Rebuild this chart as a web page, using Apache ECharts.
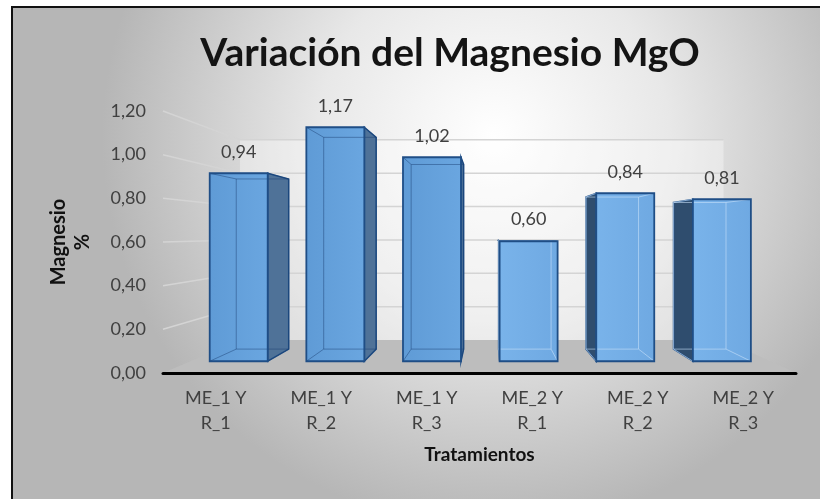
<!DOCTYPE html>
<html>
<head>
<meta charset="utf-8">
<script src="https://cdn.jsdelivr.net/npm/echarts@6/dist/echarts.min.js"></script>
<style>
html,body{margin:0;padding:0;background:#fff;}
#chart{width:820px;height:499px;}
</style>
</head>
<body>
<div id="chart"></div>
<script>
// ---- data ----
const categories = ['ME_1 Y\nR_1', 'ME_1 Y\nR_2', 'ME_1 Y\nR_3', 'ME_2 Y\nR_1', 'ME_2 Y\nR_2', 'ME_2 Y\nR_3'];
const values = [0.94, 1.17, 1.02, 0.60, 0.84, 0.81];
const yTicks = [0, 0.2, 0.4, 0.6, 0.8, 1.0, 1.2];
const titleText = 'Variación del Magnesio MgO';
const xName = 'Tratamientos';
const yName = 'Magnesio\n%';

// ---- perspective camera (style parameters) ----
const VP_CAT = 2.59;   // vanishing point along categories (index units)
const VP_VAL = 0.64;   // vanishing point height (value units)
const S_BAR_FRONT = 0.916, S_BAR_BACK = 0.829, S_WALL = 0.764;
const FONT = 'Lato';

function fmt(v){ return v.toFixed(2).replace('.', ','); }

function vpPoint(params, api){
  const cs = params.coordSys;
  const x = cs.x + cs.width * (VP_CAT + 0.5) / categories.length;
  const y = api.coord([0, VP_VAL])[1];
  return [x, y];
}
function proj(p, s, vp){ return [vp[0] + (p[0]-vp[0])*s, vp[1] + (p[1]-vp[1])*s]; }

function renderFloor(params, api){
  const cs = params.coordSys, vp = vpPoint(params, api);
  const y0 = api.coord([0, 0])[1];
  const fl = [cs.x, y0], fr = [cs.x + cs.width, y0];
  const bl = proj(fl, S_WALL, vp), br = proj(fr, S_WALL, vp);
  const yTop = api.coord([0, yTicks[yTicks.length-1]])[1];
  const wl = proj([cs.x, yTop], S_WALL, vp), wr = proj([cs.x + cs.width, yTop], S_WALL, vp);
  return {type:'group', children:[
    {type:'polygon', shape:{points:[wl, wr, br, bl]}, style:{fill:'rgba(255,255,255,0.35)'}},
    {type:'polygon', shape:{points:[fl, fr, br, bl]}, style:{fill:'#bdbdbd'}}
  ]};
}

function renderGrid(params, api){
  const v = api.value(0);
  if (v === 0) return null;
  const cs = params.coordSys, vp = vpPoint(params, api);
  const y = api.coord([0, v])[1];
  const fl = [cs.x, y];
  const bl = proj(fl, S_WALL, vp), br = proj([cs.x + cs.width, y], S_WALL, vp);
  return {type:'polyline', shape:{points:[fl, bl, br]}, style:{stroke:'#d4d4d4', lineWidth:1.5, fill:null}};
}

function renderBar(params, api){
  const i = api.value(0), v = api.value(1);
  const vp = vpPoint(params, api);
  const top = api.coord([i, v]), bot = api.coord([i, 0]);
  const bw = api.size([1, 0])[0] * 0.6;
  const xl = top[0] - bw/2, xr = top[0] + bw/2;
  const P = {TL:[xl, top[1]], TR:[xr, top[1]], BR:[xr, bot[1]], BL:[xl, bot[1]]};
  const F = {}, B = {};
  for (const k in P){ F[k] = proj(P[k], S_BAR_FRONT, vp); B[k] = proj(P[k], S_BAR_BACK, vp); }
  const rightOfVp = top[0] > vp[0];
  const edge = '#1f4e86';
  const inner = rightOfVp ? 'rgba(200,225,250,0.6)' : 'rgba(25,60,110,0.45)';
  const ch = [];
  if (B.TR[0] > F.TR[0] + 0.5){
    ch.push({type:'polygon', shape:{points:[F.TR, B.TR, B.BR, F.BR]}, style:{fill:'#4f7298', stroke:edge, lineWidth:1.5}});
  }
  if (B.TL[0] < F.TL[0] - 0.5){
    ch.push({type:'polygon', shape:{points:[B.TL, F.TL, F.BL, B.BL]}, style:{fill:'#2f4d6e', stroke:edge, lineWidth:1.5}});
  }
  if (B.TL[1] < F.TL[1] - 0.3){
    ch.push({type:'polygon', shape:{points:[B.TL, B.TR, F.TR, F.TL]}, style:{fill:'#8cbdec', stroke:edge, lineWidth:1.2}});
  }
  const faceStops = rightOfVp
    ? [{offset:0, color:'#79b3ea'},{offset:1, color:'#6fa9e2'}]
    : [{offset:0, color:'#5f9bd6'},{offset:1, color:'#6aa6e0'}];
  ch.push({type:'polygon', shape:{points:[F.TL, F.TR, F.BR, F.BL]}, style:{
    fill:{type:'linear', x:0, y:0, x2:1, y2:0, colorStops:faceStops}
  }});
  ch.push({type:'polyline', shape:{points:[B.TL, B.TR, B.BR, B.BL, B.TL]}, style:{stroke:inner, lineWidth:1, fill:null}});
  ch.push({type:'line', shape:{x1:F.TL[0], y1:F.TL[1], x2:B.TL[0], y2:B.TL[1]}, style:{stroke:inner, lineWidth:1}});
  ch.push({type:'line', shape:{x1:F.TR[0], y1:F.TR[1], x2:B.TR[0], y2:B.TR[1]}, style:{stroke:inner, lineWidth:1}});
  ch.push({type:'line', shape:{x1:F.BL[0], y1:F.BL[1], x2:B.BL[0], y2:B.BL[1]}, style:{stroke:inner, lineWidth:1}});
  ch.push({type:'line', shape:{x1:F.BR[0], y1:F.BR[1], x2:B.BR[0], y2:B.BR[1]}, style:{stroke:inner, lineWidth:1}});
  ch.push({type:'polygon', shape:{points:[F.TL, F.TR, F.BR, F.BL]}, style:{fill:null, stroke:edge, lineWidth:1.8}});
  const lx = (F.TL[0] + F.TR[0]) / 2;
  ch.push({type:'text', x:lx, y:Math.min(F.TL[1], B.TL[1]) - 12, style:{
    text: fmt(v), font:'18px ' + FONT, fill:'#404040', align:'center', verticalAlign:'bottom'
  }});
  return {type:'group', children:ch};
}

const chart = echarts.init(document.getElementById('chart'), null, {renderer:'canvas'});
chart.setOption({
  animation:false,
  backgroundColor:'#ffffff',
  graphic:[
    {type:'rect', left:11, top:6, shape:{width:830, height:520}, z:-10,
      style:{fill:{type:'radial', x:0.58, y:0.25, r:0.75, colorStops:[{offset:0,color:'#ffffff'},{offset:0.45,color:'#e8e8e8'},{offset:1,color:'#b6b6b6'}]},
        stroke:'#111', lineWidth:2}}
  ],
  title:{text:titleText, left:445, textAlign:'center', top:29,
    textStyle:{fontFamily:FONT, fontWeight:'bold', fontSize:39, color:'#141414'}},
  grid:{left:163, right:24, top:111, bottom:126, containLabel:false},
  xAxis:{type:'category', data:categories,
    axisLine:{show:true, lineStyle:{color:'#000', width:3}, onZero:false},
    axisTick:{show:false}, splitLine:{show:false},
    axisLabel:{fontFamily:FONT, fontSize:18, color:'#404040', lineHeight:25, margin:13, interval:0},
    name:xName, nameLocation:'middle', nameGap:72,
    nameTextStyle:{fontFamily:FONT, fontWeight:'bold', fontSize:19, color:'#111'}, z:10},
  yAxis:{type:'value', min:0, max:1.2, interval:0.2,
    axisLine:{show:false}, axisTick:{show:false}, splitLine:{show:false},
    axisLabel:{fontFamily:FONT, fontSize:18, color:'#404040', margin:17, formatter:fmt},
    name:yName, nameLocation:'middle', nameGap:68, nameRotate:90,
    nameTextStyle:{fontFamily:FONT, fontWeight:'bold', fontSize:20, color:'#111', lineHeight:24}},
  series:[
    {type:'custom', name:'floor', renderItem:renderFloor, data:[[0]], z:1, silent:true},
    {type:'custom', name:'grid', renderItem:renderGrid, data:yTicks.map(v=>[v]), z:2, silent:true},
    {type:'custom', name:'Magnesio', renderItem:renderBar, data:values.map((v,i)=>[i, v]), z:3,
      encode:{x:0, y:1}}
  ]
});
</script>
</body>
</html>
